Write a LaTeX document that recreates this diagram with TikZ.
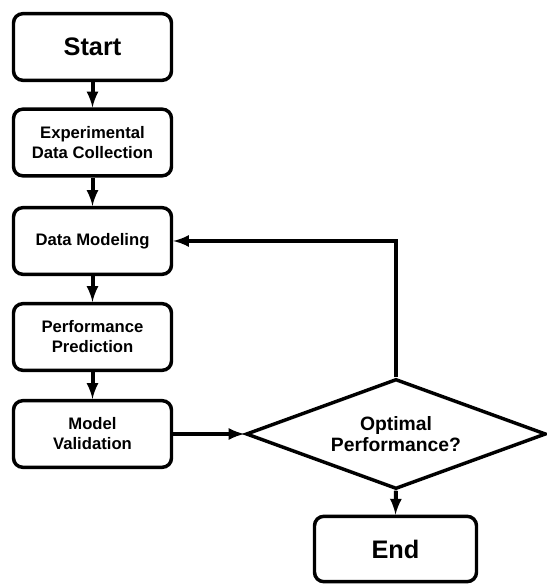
\documentclass[tikz,border=0pt]{standalone}
\usepackage{fontspec}
\setmainfont{Liberation Sans}
\usetikzlibrary{shapes.geometric,arrows.meta}

\begin{document}
\begin{tikzpicture}[x=0.75pt,y=0.75pt, >=latex, line width=2.6pt,
    box/.style={draw, rounded corners=7pt, minimum width=118.5pt, minimum height=50pt, inner sep=2pt,
        align=center, font=\fontsize{12.5}{15}\selectfont\bfseries},
    term/.style={box, font=\fontsize{19}{22}\selectfont\bfseries},
    decision/.style={draw, diamond, aspect=2.7, minimum width=225pt, minimum height=82.5pt, inner sep=0pt,
        align=center, font=\fontsize{14.5}{16.3}\selectfont\bfseries},
    flow/.style={->, line width=3pt}]
    \useasboundingbox (0,0) rectangle (546,585);

    % main column
    \node[term] (start) at (92.5, 538) {Start};
    \node[box] (collect) at (92.5, 442.5) {Experimental\\Data Collection};
    \node[box] (model) at (92.5, 344) {Data Modeling};
    \node[box] (predict) at (92.5, 248) {Performance\\Prediction};
    \node[box] (valid) at (92.5, 151) {Model\\Validation};

    % decision and end
    \node[decision] (optim) at (396, 151) {Optimal\\Performance?};
    \node[term, minimum width=121.5pt, minimum height=49pt] (finish) at (395.5, 36) {End};

    \draw[flow] (start) -- (collect);
    \draw[flow] (collect) -- (model);
    \draw[flow] (model) -- (predict);
    \draw[flow] (predict) -- (valid);
    \draw[flow] (valid) -- (optim);
    \draw[flow] (optim.north) |- (model.east);
    \draw[flow] (optim.south) -- (finish.north);
\end{tikzpicture}
\end{document}
